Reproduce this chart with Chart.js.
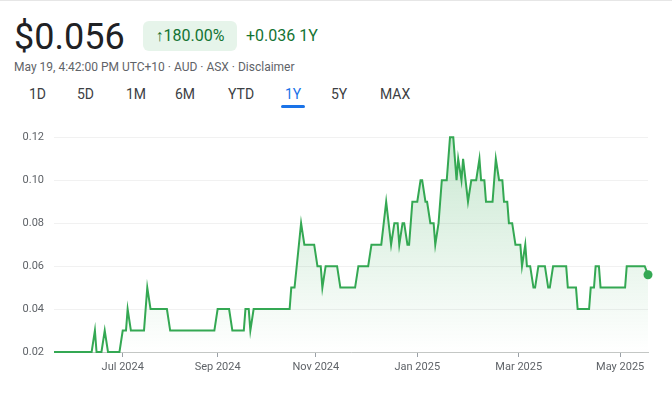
<!DOCTYPE html>
<html><head><meta charset="utf-8">
<script src="https://cdn.jsdelivr.net/npm/chart.js@4"></script>
<style>
body{margin:0;width:672px;height:400px;background:#fff;font-family:Roboto,Arial,sans-serif;position:relative;overflow:hidden}
.top{position:absolute;left:0;top:0;width:672px;height:1px;background:#e6e6e6}
.price{position:absolute;left:14px;top:16px;font-size:36px;color:#202124}
.badge{position:absolute;left:143px;top:21px;width:94px;height:30px;background:#e6f4ea;border-radius:6px;color:#137333;font-size:16px;line-height:30px;text-align:center}
.chg{position:absolute;left:246px;top:26px;font-size:16px;color:#137333}
.meta{position:absolute;left:14px;top:60px;font-size:12px;color:#5f6368}
.tabs span{position:absolute;top:86px;font-size:14px;color:#3c4043}
.ul{position:absolute;left:281px;top:105px;width:24px;height:3px;background:#1a73e8;border-radius:2px}
#wrap{position:absolute;left:0;top:110px;width:672px;height:290px}
</style></head><body>
<div class="top"></div>
<div class="price">$0.056</div>
<div class="badge">↑180.00%</div>
<div class="chg">+0.036 1Y</div>
<div class="meta">May 19, 4:42:00 PM UTC+10 · AUD · ASX · Disclaimer</div>
<div class="tabs"><span style="left:29px">1D</span><span style="left:77px">5D</span><span style="left:126px">1M</span><span style="left:175px">6M</span><span style="left:228px">YTD</span><span style="left:285px;color:#1a73e8">1Y</span><span style="left:331px">5Y</span><span style="left:380px">MAX</span></div>
<div class="ul"></div>
<div id="wrap"><canvas id="c"></canvas></div>
<script>
const days=[0,23,25,26,29,31,33,40,42,44,45,47,55,57,59,69,71,98,100,107,109,116,117,119,120,122,144,145,147,151,153,159,161,163,164,166,173,175,184,186,192,194,200,203,206,208,210,211,213,214,216,217,219,222,224,225,227,228,230,232,233,235,237,240,242,244,246,247,249,250,253,255,258,260,261,263,264,268,270,272,274,275,277,278,280,282,285,286,288,289,291,293,294,296,300,302,303,305,313,314,319,320,327,328,330,331,333,334,349,350,361,363];
const prices=[0.02,0.02,0.03,0.02,0.02,0.03,0.02,0.02,0.03,0.03,0.04,0.03,0.03,0.05,0.04,0.04,0.03,0.03,0.04,0.04,0.03,0.03,0.04,0.04,0.03,0.04,0.04,0.05,0.05,0.08,0.07,0.07,0.06,0.06,0.05,0.06,0.06,0.05,0.05,0.06,0.06,0.07,0.07,0.09,0.07,0.08,0.08,0.07,0.08,0.08,0.07,0.07,0.09,0.09,0.10,0.10,0.09,0.09,0.08,0.08,0.07,0.08,0.10,0.10,0.12,0.12,0.10,0.11,0.10,0.11,0.09,0.10,0.10,0.11,0.10,0.10,0.09,0.09,0.11,0.10,0.10,0.09,0.09,0.08,0.08,0.07,0.07,0.06,0.07,0.06,0.06,0.05,0.05,0.06,0.06,0.05,0.05,0.06,0.06,0.05,0.05,0.04,0.04,0.05,0.05,0.06,0.06,0.05,0.05,0.06,0.06,0.056];
const tickDays=[42,100,160,222,284,346];
const tickLabels=['Jul 2024','Sep 2024','Nov 2024','Jan 2025','Mar 2025','May 2025'];
const yTicks=[0.02,0.04,0.06,0.08,0.10,0.12];
const green='#34a853';
const pts=days.map((d,i)=>({x:d,y:prices[i]}));
new Chart(document.getElementById('c'),{type:'line',
data:{datasets:[{data:pts,borderColor:green,borderWidth:2,tension:0,clip:false,
 pointRadius:pts.map((p,i)=>i===pts.length-1?4.5:0),pointBackgroundColor:green,pointBorderWidth:0,
 fill:true,backgroundColor:(ctx)=>{const a=ctx.chart.chartArea;if(!a)return 'rgba(52,168,83,0.1)';const g=ctx.chart.ctx.createLinearGradient(0,a.top,0,a.bottom);g.addColorStop(0,'rgba(52,168,83,0.28)');g.addColorStop(1,'rgba(52,168,83,0)');return g;}}]},
options:{responsive:true,maintainAspectRatio:false,animation:false,
 layout:{padding:{top:9,right:24,left:0,bottom:0}},
 plugins:{legend:{display:false},tooltip:{enabled:false}},
 scales:{
  x:{type:'linear',min:0,max:363,
   afterBuildTicks:s=>{s.ticks=tickDays.map(v=>({value:v}));},
   afterFit:s=>{s.height=48;},
   ticks:{autoSkip:false,maxRotation:0,color:'#5f6368',font:{family:'Roboto',size:11},padding:4,callback:(v)=>tickLabels[tickDays.indexOf(v)]},
   grid:{drawOnChartArea:false,drawTicks:true,tickLength:5,color:'#9aa0a6'},
   border:{color:'#c4c7c5'}},
  y:{min:0.02,max:0.125,
   afterBuildTicks:s=>{s.ticks=yTicks.map(v=>({value:v}));},
   afterFit:s=>{s.width=54;},
   ticks:{color:'#5f6368',font:{family:'Roboto',size:11},padding:10,callback:v=>v.toFixed(2)},
   grid:{color:'#f1f1f1',drawTicks:false},border:{display:false}}
 }}});
</script></body></html>
